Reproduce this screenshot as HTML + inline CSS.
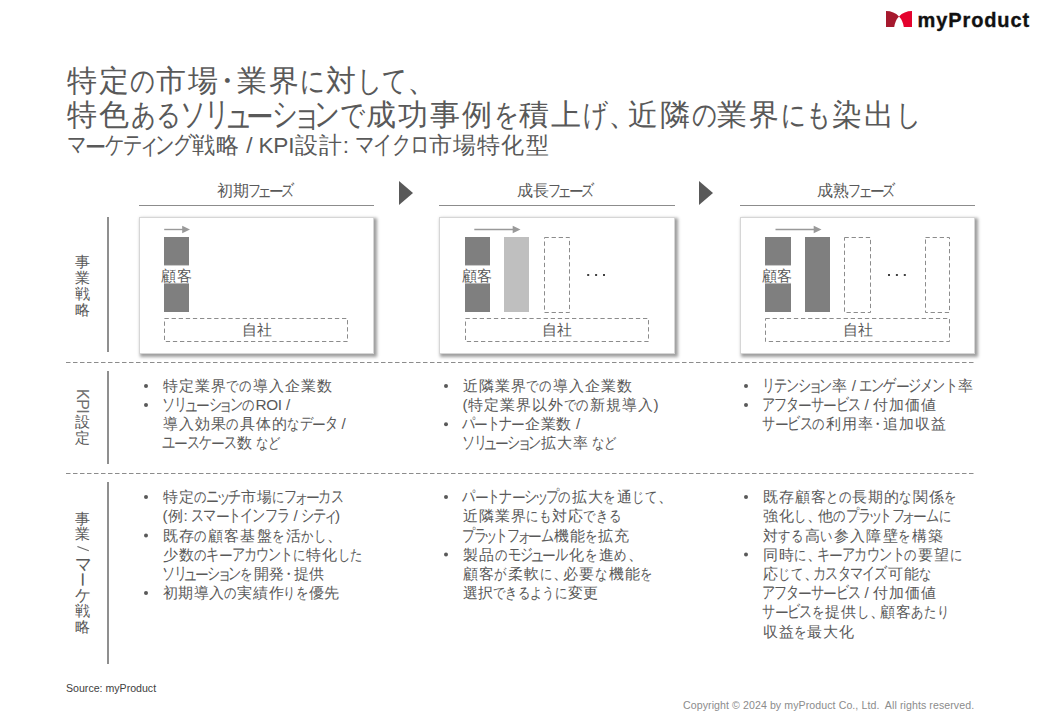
<!DOCTYPE html>
<html lang="ja"><head><meta charset="utf-8">
<title>マーケティング戦略 / KPI設計: マイクロ市場特化型</title>
<style>
html,body{margin:0;padding:0;background:#fff;}
body{width:1040px;height:720px;position:relative;overflow:hidden;font-family:"Liberation Sans",sans-serif;}
.ln{position:absolute;white-space:nowrap;line-height:1;}
.ln i{display:inline-block;font-style:normal;white-space:nowrap;}
.ln i>b{display:inline-block;font-weight:normal;transform-origin:50% 50%;}
.ln i.c{width:var(--c);text-align:center;}
.ln i.p{width:var(--p);}
.ln i.m{width:var(--m);}.ln i.m>b{margin-left:calc((var(--m) - 1em)/2);}
.ln i.k{width:var(--k);}.ln i.k>b{margin-left:calc((var(--k) - 1em)/2);transform:translateY(-0.03em) scale(0.85,1.1)}
.ln i.sk{width:var(--sk);}.ln i.sk>b{margin-left:calc((var(--sk) - 1em)/2);transform:scale(0.95,1.15)}
.ln i.sh{width:var(--sh);}.ln i.sh>b{margin-left:calc((var(--sh) - 1em)/2);transform:scale(0.95,1.1)}
.ln i.h{width:var(--h);}.ln i.h>b{margin-left:calc((var(--h) - 1em)/2);transform:scale(0.82,1)}
.ln i.l{width:var(--l);}.ln i.l>b{margin-left:calc((var(--l) - 1em)/2);transform:translateY(0.07em) scale(0.92,1)}
.abs{position:absolute;left:0;top:0;}
.card{position:absolute;top:217px;height:137px;box-sizing:border-box;border:1px solid #d6d6d6;background:#fff;box-shadow:2px 2px 3px 1px rgba(0,0,0,0.38);}
.vc{position:absolute;left:74.6px;line-height:1;color:#595959;white-space:nowrap;}
</style></head><body>

<svg class="abs" style="left:886px;top:11px" width="26" height="16" viewBox="0 0 26 16">
<path d="M0 0 Q8 0 13 5.5 Q9.3 9.2 8.2 16 L0 16 Z" fill="#a6192e"/>
<path d="M26 0 Q18 0 13 5.5 Q16.7 9.2 17.8 16 L26 16 Z" fill="#e4032e"/>
</svg>
<div class="ln" style="left:917.5px;top:10px;font-size:20px;font-weight:bold;color:#111;-webkit-text-stroke:0.35px #111;letter-spacing:0.9px">myProduct</div>

<div class="card" style="left:139px;width:235px"></div>
<div class="card" style="left:439px;width:236px"></div>
<div class="card" style="left:740px;width:235px"></div>
<svg class="abs" width="1040" height="720" viewBox="0 0 1040 720">
<defs><linearGradient id="gb" x1="0" y1="0" x2="0" y2="1"><stop offset="0" stop-color="#7f7f7f"/><stop offset="0.366" stop-color="#7f7f7f"/><stop offset="0.39" stop-color="#fff"/><stop offset="0.605" stop-color="#fff"/><stop offset="0.63" stop-color="#7f7f7f"/><stop offset="1" stop-color="#7f7f7f"/></linearGradient></defs>
<rect x="139" y="205" width="235" height="1" fill="#8c8c8c"/>
<rect x="439" y="205" width="236" height="1" fill="#8c8c8c"/>
<rect x="740" y="205" width="235" height="1" fill="#8c8c8c"/>
<path d="M399 181 L413 193 L399 205 Z" fill="#595959"/>
<path d="M699 181 L713 193 L699 205 Z" fill="#595959"/>
<rect x="107" y="217" width="2" height="135" fill="#8f8f8f"/>
<rect x="107" y="371" width="2" height="93" fill="#8f8f8f"/>
<rect x="107" y="482" width="2" height="182" fill="#8f8f8f"/>
<line x1="66" y1="362.5" x2="975" y2="362.5" stroke="#8c8c8c" stroke-width="1" stroke-dasharray="4.5 2.5"/>
<line x1="66" y1="473.5" x2="975" y2="473.5" stroke="#8c8c8c" stroke-width="1" stroke-dasharray="4.5 2.5"/>
<line x1="164.2" y1="229.5" x2="184.0" y2="229.5" stroke="#999" stroke-width="1.4"/><path d="M182.2 225.7 L190.0 229.5 L182.2 233.3 Z" fill="#999"/>
<rect x="164" y="237" width="25" height="75" fill="url(#gb)"/>
<rect x="164.5" y="318.5" width="183" height="23" stroke="#8c8c8c" stroke-width="1" stroke-dasharray="4.3 2.8" fill="none"/>
<line x1="474.3" y1="229.5" x2="514.5" y2="229.5" stroke="#999" stroke-width="1.4"/><path d="M512.7 225.7 L520.5 229.5 L512.7 233.3 Z" fill="#999"/>
<rect x="465" y="237" width="25" height="75" fill="url(#gb)"/>
<rect x="504" y="237" width="25" height="75" fill="#bfbfbf"/>
<rect x="544.5" y="237.5" width="25" height="75" stroke="#8c8c8c" stroke-width="1" stroke-dasharray="4.3 2.8" fill="none"/>
<rect x="587.2" y="274" width="2" height="2" fill="#404040"/><rect x="595.1" y="274" width="2" height="2" fill="#404040"/><rect x="603.0" y="274" width="2" height="2" fill="#404040"/>
<rect x="465.5" y="318.5" width="183" height="23" stroke="#8c8c8c" stroke-width="1" stroke-dasharray="4.3 2.8" fill="none"/>
<line x1="775.5" y1="229.5" x2="815.5" y2="229.5" stroke="#999" stroke-width="1.4"/><path d="M813.7 225.7 L821.5 229.5 L813.7 233.3 Z" fill="#999"/>
<rect x="765" y="237" width="26" height="75" fill="url(#gb)"/>
<rect x="805" y="237" width="25" height="75" fill="#7f7f7f"/>
<rect x="844.5" y="237.5" width="26" height="75" stroke="#8c8c8c" stroke-width="1" stroke-dasharray="4.3 2.8" fill="none"/>
<rect x="925.5" y="237.5" width="24" height="75" stroke="#8c8c8c" stroke-width="1" stroke-dasharray="4.3 2.8" fill="none"/>
<rect x="888.0" y="274" width="2" height="2" fill="#404040"/><rect x="895.9" y="274" width="2" height="2" fill="#404040"/><rect x="903.8" y="274" width="2" height="2" fill="#404040"/>
<rect x="765.5" y="318.5" width="184" height="23" stroke="#8c8c8c" stroke-width="1" stroke-dasharray="4.3 2.8" fill="none"/>
<circle cx="146.0" cy="385.9" r="2" fill="#595959"/>
<circle cx="146.0" cy="405.0" r="2" fill="#595959"/>
<circle cx="446.0" cy="385.9" r="2" fill="#595959"/>
<circle cx="446.0" cy="424.2" r="2" fill="#595959"/>
<circle cx="746.0" cy="385.9" r="2" fill="#595959"/>
<circle cx="746.0" cy="405.0" r="2" fill="#595959"/>
<circle cx="146.0" cy="496.9" r="2" fill="#595959"/>
<circle cx="146.0" cy="535.4" r="2" fill="#595959"/>
<circle cx="146.0" cy="593.1" r="2" fill="#595959"/>
<circle cx="446.0" cy="496.9" r="2" fill="#595959"/>
<circle cx="446.0" cy="554.6" r="2" fill="#595959"/>
<circle cx="746.0" cy="496.9" r="2" fill="#595959"/>
<circle cx="746.0" cy="554.6" r="2" fill="#595959"/>
</svg>
<div class="ln" id="t1" style="left:66.25px;top:65.09px;font-size:30.40px;color:#595959;--c:31.90px;--h:25.20px;--m:16.91px;--p:19.14px;"><i class="c">特</i><i class="c">定</i><i class="h"><b>の</b></i><i class="c">市</i><i class="c">場</i><i class="m"><b>・</b></i><i class="c">業</i><i class="c">界</i><i class="h"><b>に</b></i><i class="c">対</i><i class="h"><b>し</b></i><i class="h"><b>て</b></i><i class="p">、</i></div>
<div class="ln" id="t2" style="left:66.18px;top:99.39px;font-size:30.40px;color:#595959;--c:32.04px;--h:25.31px;--k:24.35px;--l:25.63px;--p:19.22px;--sk:17.94px;"><i class="c">特</i><i class="c">色</i><i class="h"><b>あ</b></i><i class="h"><b>る</b></i><i class="k"><b>ソ</b></i><i class="k"><b>リ</b></i><i class="sk"><b>ュ</b></i><i class="l"><b>ー</b></i><i class="k"><b>シ</b></i><i class="sk"><b>ョ</b></i><i class="k"><b>ン</b></i><i class="h"><b>で</b></i><i class="c">成</i><i class="c">功</i><i class="c">事</i><i class="c">例</i><i class="h"><b>を</b></i><i class="c">積</i><i class="c">上</i><i class="h"><b>げ</b></i><i class="p">、</i><i class="c">近</i><i class="c">隣</i><i class="h"><b>の</b></i><i class="c">業</i><i class="c">界</i><i class="h"><b>に</b></i><i class="h"><b>も</b></i><i class="c">染</i><i class="c">出</i><i class="h"><b>し</b></i></div>
<div class="ln" id="st" style="left:67.00px;top:135.32px;font-size:22.60px;color:#595959;--c:24.16px;--k:18.36px;--l:19.33px;--sk:13.53px;"><i class="k"><b>マ</b></i><i class="l"><b>ー</b></i><i class="k"><b>ケ</b></i><i class="k"><b>テ</b></i><i class="sk"><b>ィ</b></i><i class="k"><b>ン</b></i><i class="k"><b>グ</b></i><i class="c">戦</i><i class="c">略</i><span style="letter-spacing:-0.10px"> / </span><span style="letter-spacing:-0.25px">KP</span><span style="letter-spacing:-0.10px">I</span><i class="c">設</i><i class="c">計</i><span style="letter-spacing:-0.10px">: </span><i class="k"><b>マ</b></i><i class="k"><b>イ</b></i><i class="k"><b>ク</b></i><i class="k"><b>ロ</b></i><i class="c">市</i><i class="c">場</i><i class="c">特</i><i class="c">化</i><i class="c">型</i></div>
<div class="ln" id="ph0" style="left:217.05px;top:183.33px;font-size:15.80px;color:#595959;--c:15.70px;--k:11.93px;--l:12.56px;--sk:8.79px;"><i class="c">初</i><i class="c">期</i><i class="k"><b>フ</b></i><i class="sk"><b>ェ</b></i><i class="l"><b>ー</b></i><i class="k"><b>ズ</b></i></div>
<div class="ln" id="ph1" style="left:517.05px;top:183.33px;font-size:15.80px;color:#595959;--c:15.70px;--k:11.93px;--l:12.56px;--sk:8.79px;"><i class="c">成</i><i class="c">長</i><i class="k"><b>フ</b></i><i class="sk"><b>ェ</b></i><i class="l"><b>ー</b></i><i class="k"><b>ズ</b></i></div>
<div class="ln" id="ph2" style="left:817.43px;top:183.33px;font-size:15.80px;color:#595959;--c:15.95px;--k:12.12px;--l:12.76px;--sk:8.93px;"><i class="c">成</i><i class="c">熟</i><i class="k"><b>フ</b></i><i class="sk"><b>ェ</b></i><i class="l"><b>ー</b></i><i class="k"><b>ズ</b></i></div>
<div class="ln" id="k0_0" style="left:162.09px;top:378.04px;font-size:15.30px;color:#595959;--c:16.12px;--h:12.74px;"><i class="c">特</i><i class="c">定</i><i class="c">業</i><i class="c">界</i><i class="h"><b>で</b></i><i class="h"><b>の</b></i><i class="c">導</i><i class="c">入</i><i class="c">企</i><i class="c">業</i><i class="c">数</i></div>
<div class="ln" id="k0_1" style="left:162.50px;top:397.19px;font-size:15.30px;color:#595959;--h:12.78px;--k:12.29px;--l:12.94px;--sk:9.06px;"><i class="k"><b>ソ</b></i><i class="k"><b>リ</b></i><i class="sk"><b>ュ</b></i><i class="l"><b>ー</b></i><i class="k"><b>シ</b></i><i class="sk"><b>ョ</b></i><i class="k"><b>ン</b></i><i class="h"><b>の</b></i><span style="letter-spacing:-0.30px">R</span><span style="letter-spacing:-0.33px">O</span><span style="letter-spacing:-0.12px">I /</span></div>
<div class="ln" id="k0_2" style="left:162.10px;top:416.34px;font-size:15.30px;color:#595959;--c:16.09px;--h:12.71px;--k:12.23px;--l:12.87px;"><i class="c">導</i><i class="c">入</i><i class="c">効</i><i class="c">果</i><i class="h"><b>の</b></i><i class="c">具</i><i class="c">体</i><i class="c">的</i><i class="h"><b>な</b></i><i class="k"><b>デ</b></i><i class="l"><b>ー</b></i><i class="k"><b>タ</b></i><span style="letter-spacing:-0.14px"> /</span></div>
<div class="ln" id="k0_3" style="left:162.50px;top:435.49px;font-size:15.30px;color:#595959;--c:15.91px;--h:12.57px;--k:12.09px;--l:12.73px;"><i class="k"><b>ユ</b></i><i class="l"><b>ー</b></i><i class="k"><b>ス</b></i><i class="k"><b>ケ</b></i><i class="l"><b>ー</b></i><i class="k"><b>ス</b></i><i class="c">数</i><span style="letter-spacing:-0.18px"> </span><i class="h"><b>な</b></i><i class="h"><b>ど</b></i></div>
<div class="ln" id="k1_0" style="left:462.09px;top:378.04px;font-size:15.30px;color:#595959;--c:16.12px;--h:12.74px;"><i class="c">近</i><i class="c">隣</i><i class="c">業</i><i class="c">界</i><i class="h"><b>で</b></i><i class="h"><b>の</b></i><i class="c">導</i><i class="c">入</i><i class="c">企</i><i class="c">業</i><i class="c">数</i></div>
<div class="ln" id="k1_1" style="left:462.50px;top:397.19px;font-size:15.30px;color:#595959;--c:16.08px;--h:12.70px;"><span style="letter-spacing:-0.17px">(</span><i class="c">特</i><i class="c">定</i><i class="c">業</i><i class="c">界</i><i class="c">以</i><i class="c">外</i><i class="h"><b>で</b></i><i class="h"><b>の</b></i><i class="c">新</i><i class="c">規</i><i class="c">導</i><i class="c">入</i><span style="letter-spacing:-0.17px">)</span></div>
<div class="ln" id="k1_2" style="left:462.50px;top:416.34px;font-size:15.30px;color:#595959;--c:15.91px;--k:12.09px;--l:12.73px;"><i class="k"><b>パ</b></i><i class="l"><b>ー</b></i><i class="k"><b>ト</b></i><i class="k"><b>ナ</b></i><i class="l"><b>ー</b></i><i class="c">企</i><i class="c">業</i><i class="c">数</i><span style="letter-spacing:-0.18px"> /</span></div>
<div class="ln" id="k1_3" style="left:462.50px;top:435.49px;font-size:15.30px;color:#595959;--c:15.80px;--h:12.48px;--k:12.01px;--l:12.64px;--sk:8.85px;"><i class="k"><b>ソ</b></i><i class="k"><b>リ</b></i><i class="sk"><b>ュ</b></i><i class="l"><b>ー</b></i><i class="k"><b>シ</b></i><i class="sk"><b>ョ</b></i><i class="k"><b>ン</b></i><i class="c">拡</i><i class="c">大</i><i class="c">率</i><span style="letter-spacing:-0.21px"> </span><i class="h"><b>な</b></i><i class="h"><b>ど</b></i></div>
<div class="ln" id="k2_0" style="left:762.50px;top:378.04px;font-size:15.30px;color:#595959;--c:15.91px;--k:12.09px;--l:12.73px;--sk:8.91px;"><i class="k"><b>リ</b></i><i class="k"><b>テ</b></i><i class="k"><b>ン</b></i><i class="k"><b>シ</b></i><i class="sk"><b>ョ</b></i><i class="k"><b>ン</b></i><i class="c">率</i><span style="letter-spacing:-0.18px"> / </span><i class="k"><b>エ</b></i><i class="k"><b>ン</b></i><i class="k"><b>ゲ</b></i><i class="l"><b>ー</b></i><i class="k"><b>ジ</b></i><i class="k"><b>メ</b></i><i class="k"><b>ン</b></i><i class="k"><b>ト</b></i><i class="c">率</i></div>
<div class="ln" id="k2_1" style="left:762.50px;top:397.19px;font-size:15.30px;color:#595959;--c:15.91px;--k:12.09px;--l:12.73px;"><i class="k"><b>ア</b></i><i class="k"><b>フ</b></i><i class="k"><b>タ</b></i><i class="l"><b>ー</b></i><i class="k"><b>サ</b></i><i class="l"><b>ー</b></i><i class="k"><b>ビ</b></i><i class="k"><b>ス</b></i><span style="letter-spacing:-0.18px"> / </span><i class="c">付</i><i class="c">加</i><i class="c">価</i><i class="c">値</i></div>
<div class="ln" id="k2_2" style="left:762.50px;top:416.34px;font-size:15.30px;color:#595959;--c:16.20px;--h:12.80px;--k:12.31px;--l:12.96px;--m:8.59px;"><i class="k"><b>サ</b></i><i class="l"><b>ー</b></i><i class="k"><b>ビ</b></i><i class="k"><b>ス</b></i><i class="h"><b>の</b></i><i class="c">利</i><i class="c">用</i><i class="c">率</i><i class="m"><b>・</b></i><i class="c">追</i><i class="c">加</i><i class="c">収</i><i class="c">益</i></div>
<div class="ln" id="s0_0" style="left:162.12px;top:489.04px;font-size:15.30px;color:#595959;--c:16.05px;--h:12.68px;--k:12.20px;--l:12.84px;--sk:8.99px;"><i class="c">特</i><i class="c">定</i><i class="h"><b>の</b></i><i class="k"><b>ニ</b></i><i class="sk"><b>ッ</b></i><i class="k"><b>チ</b></i><i class="c">市</i><i class="c">場</i><i class="h"><b>に</b></i><i class="k"><b>フ</b></i><i class="sk"><b>ォ</b></i><i class="l"><b>ー</b></i><i class="k"><b>カ</b></i><i class="k"><b>ス</b></i></div>
<div class="ln" id="s0_1" style="left:162.50px;top:508.28px;font-size:15.30px;color:#595959;--c:16.00px;--k:12.16px;--l:12.80px;--sk:8.96px;"><span style="letter-spacing:-0.19px">(</span><i class="c">例</i><span style="letter-spacing:-0.16px">: </span><i class="k"><b>ス</b></i><i class="k"><b>マ</b></i><i class="l"><b>ー</b></i><i class="k"><b>ト</b></i><i class="k"><b>イ</b></i><i class="k"><b>ン</b></i><i class="k"><b>フ</b></i><i class="k"><b>ラ</b></i><span style="letter-spacing:-0.16px"> / </span><i class="k"><b>シ</b></i><i class="k"><b>テ</b></i><i class="sk"><b>ィ</b></i><span style="letter-spacing:-0.19px">)</span></div>
<div class="ln" id="s0_2" style="left:162.02px;top:527.52px;font-size:15.30px;color:#595959;--c:16.26px;--h:12.84px;--p:9.75px;"><i class="c">既</i><i class="c">存</i><i class="h"><b>の</b></i><i class="c">顧</i><i class="c">客</i><i class="c">基</i><i class="c">盤</i><i class="h"><b>を</b></i><i class="c">活</i><i class="h"><b>か</b></i><i class="h"><b>し</b></i><i class="p">、</i></div>
<div class="ln" id="s0_3" style="left:162.11px;top:546.76px;font-size:15.30px;color:#595959;--c:16.08px;--h:12.71px;--k:12.22px;--l:12.87px;"><i class="c">少</i><i class="c">数</i><i class="h"><b>の</b></i><i class="k"><b>キ</b></i><i class="l"><b>ー</b></i><i class="k"><b>ア</b></i><i class="k"><b>カ</b></i><i class="k"><b>ウ</b></i><i class="k"><b>ン</b></i><i class="k"><b>ト</b></i><i class="h"><b>に</b></i><i class="c">特</i><i class="c">化</i><i class="h"><b>し</b></i><i class="h"><b>た</b></i></div>
<div class="ln" id="s0_4" style="left:162.50px;top:566.00px;font-size:15.30px;color:#595959;--c:15.80px;--h:12.49px;--k:12.01px;--l:12.64px;--m:8.38px;--sk:8.85px;"><i class="k"><b>ソ</b></i><i class="k"><b>リ</b></i><i class="sk"><b>ュ</b></i><i class="l"><b>ー</b></i><i class="k"><b>シ</b></i><i class="sk"><b>ョ</b></i><i class="k"><b>ン</b></i><i class="h"><b>を</b></i><i class="c">開</i><i class="c">発</i><i class="m"><b>・</b></i><i class="c">提</i><i class="c">供</i></div>
<div class="ln" id="s0_5" style="left:162.34px;top:585.24px;font-size:15.30px;color:#595959;--c:15.62px;--h:12.34px;"><i class="c">初</i><i class="c">期</i><i class="c">導</i><i class="c">入</i><i class="h"><b>の</b></i><i class="c">実</i><i class="c">績</i><i class="c">作</i><i class="h"><b>り</b></i><i class="h"><b>を</b></i><i class="c">優</i><i class="c">先</i></div>
<div class="ln" id="s1_0" style="left:462.50px;top:489.04px;font-size:15.30px;color:#595959;--c:16.12px;--h:12.73px;--k:12.25px;--l:12.89px;--p:9.67px;--sk:9.03px;"><i class="k"><b>パ</b></i><i class="l"><b>ー</b></i><i class="k"><b>ト</b></i><i class="k"><b>ナ</b></i><i class="l"><b>ー</b></i><i class="k"><b>シ</b></i><i class="sk"><b>ッ</b></i><i class="k"><b>プ</b></i><i class="h"><b>の</b></i><i class="c">拡</i><i class="c">大</i><i class="h"><b>を</b></i><i class="c">通</i><i class="h"><b>じ</b></i><i class="h"><b>て</b></i><i class="p">、</i></div>
<div class="ln" id="s1_1" style="left:462.14px;top:508.28px;font-size:15.30px;color:#595959;--c:16.02px;--h:12.66px;"><i class="c">近</i><i class="c">隣</i><i class="c">業</i><i class="c">界</i><i class="h"><b>に</b></i><i class="h"><b>も</b></i><i class="c">対</i><i class="c">応</i><i class="h"><b>で</b></i><i class="h"><b>き</b></i><i class="h"><b>る</b></i></div>
<div class="ln" id="s1_2" style="left:462.50px;top:527.52px;font-size:15.30px;color:#595959;--c:15.91px;--h:12.57px;--k:12.09px;--l:12.73px;--sk:8.91px;"><i class="k"><b>プ</b></i><i class="k"><b>ラ</b></i><i class="sk"><b>ッ</b></i><i class="k"><b>ト</b></i><i class="k"><b>フ</b></i><i class="sk"><b>ォ</b></i><i class="l"><b>ー</b></i><i class="k"><b>ム</b></i><i class="c">機</i><i class="c">能</i><i class="h"><b>を</b></i><i class="c">拡</i><i class="c">充</i></div>
<div class="ln" id="s1_3" style="left:461.87px;top:546.76px;font-size:15.30px;color:#595959;--c:16.56px;--h:13.08px;--k:12.59px;--l:13.25px;--p:9.94px;--sk:9.27px;"><i class="c">製</i><i class="c">品</i><i class="h"><b>の</b></i><i class="k"><b>モ</b></i><i class="k"><b>ジ</b></i><i class="sk"><b>ュ</b></i><i class="l"><b>ー</b></i><i class="k"><b>ル</b></i><i class="c">化</i><i class="h"><b>を</b></i><i class="c">進</i><i class="h"><b>め</b></i><i class="p">、</i></div>
<div class="ln" id="s1_4" style="left:462.01px;top:566.00px;font-size:15.30px;color:#595959;--c:16.28px;--h:12.86px;--p:9.77px;"><i class="c">顧</i><i class="c">客</i><i class="h"><b>が</b></i><i class="c">柔</i><i class="c">軟</i><i class="h"><b>に</b></i><i class="p">、</i><i class="c">必</i><i class="c">要</i><i class="h"><b>な</b></i><i class="c">機</i><i class="c">能</i><i class="h"><b>を</b></i></div>
<div class="ln" id="s1_5" style="left:462.36px;top:585.24px;font-size:15.30px;color:#595959;--c:15.59px;--h:12.32px;"><i class="c">選</i><i class="c">択</i><i class="h"><b>で</b></i><i class="h"><b>き</b></i><i class="h"><b>る</b></i><i class="h"><b>よ</b></i><i class="h"><b>う</b></i><i class="h"><b>に</b></i><i class="c">変</i><i class="c">更</i></div>
<div class="ln" id="s2_0" style="left:762.13px;top:489.04px;font-size:15.30px;color:#595959;--c:16.04px;--h:12.67px;"><i class="c">既</i><i class="c">存</i><i class="c">顧</i><i class="c">客</i><i class="h"><b>と</b></i><i class="h"><b>の</b></i><i class="c">長</i><i class="c">期</i><i class="c">的</i><i class="h"><b>な</b></i><i class="c">関</i><i class="c">係</i><i class="h"><b>を</b></i></div>
<div class="ln" id="s2_1" style="left:762.03px;top:508.28px;font-size:15.30px;color:#595959;--c:16.23px;--h:12.82px;--k:12.34px;--l:12.99px;--p:9.74px;--sk:9.09px;"><i class="c">強</i><i class="c">化</i><i class="h"><b>し</b></i><i class="p">、</i><i class="c">他</i><i class="h"><b>の</b></i><i class="k"><b>プ</b></i><i class="k"><b>ラ</b></i><i class="sk"><b>ッ</b></i><i class="k"><b>ト</b></i><i class="k"><b>フ</b></i><i class="sk"><b>ォ</b></i><i class="l"><b>ー</b></i><i class="k"><b>ム</b></i><i class="h"><b>に</b></i></div>
<div class="ln" id="s2_2" style="left:762.00px;top:527.52px;font-size:15.30px;color:#595959;--c:16.31px;--h:12.88px;"><i class="c">対</i><i class="h"><b>す</b></i><i class="h"><b>る</b></i><i class="c">高</i><i class="h"><b>い</b></i><i class="c">参</i><i class="c">入</i><i class="c">障</i><i class="c">壁</i><i class="h"><b>を</b></i><i class="c">構</i><i class="c">築</i></div>
<div class="ln" id="s2_3" style="left:762.01px;top:546.76px;font-size:15.30px;color:#595959;--c:16.28px;--h:12.86px;--k:12.37px;--l:13.02px;--p:9.77px;"><i class="c">同</i><i class="c">時</i><i class="h"><b>に</b></i><i class="p">、</i><i class="k"><b>キ</b></i><i class="l"><b>ー</b></i><i class="k"><b>ア</b></i><i class="k"><b>カ</b></i><i class="k"><b>ウ</b></i><i class="k"><b>ン</b></i><i class="k"><b>ト</b></i><i class="h"><b>の</b></i><i class="c">要</i><i class="c">望</i><i class="h"><b>に</b></i></div>
<div class="ln" id="s2_4" style="left:762.07px;top:566.00px;font-size:15.30px;color:#595959;--c:16.17px;--h:12.77px;--k:12.29px;--p:9.70px;"><i class="c">応</i><i class="h"><b>じ</b></i><i class="h"><b>て</b></i><i class="p">、</i><i class="k"><b>カ</b></i><i class="k"><b>ス</b></i><i class="k"><b>タ</b></i><i class="k"><b>マ</b></i><i class="k"><b>イ</b></i><i class="k"><b>ズ</b></i><i class="c">可</i><i class="c">能</i><i class="h"><b>な</b></i></div>
<div class="ln" id="s2_5" style="left:762.50px;top:585.24px;font-size:15.30px;color:#595959;--c:15.91px;--k:12.09px;--l:12.73px;"><i class="k"><b>ア</b></i><i class="k"><b>フ</b></i><i class="k"><b>タ</b></i><i class="l"><b>ー</b></i><i class="k"><b>サ</b></i><i class="l"><b>ー</b></i><i class="k"><b>ビ</b></i><i class="k"><b>ス</b></i><span style="letter-spacing:-0.18px"> / </span><i class="c">付</i><i class="c">加</i><i class="c">価</i><i class="c">値</i></div>
<div class="ln" id="s2_6" style="left:762.50px;top:604.48px;font-size:15.30px;color:#595959;--c:16.10px;--h:12.72px;--k:12.23px;--l:12.88px;--p:9.66px;"><i class="k"><b>サ</b></i><i class="l"><b>ー</b></i><i class="k"><b>ビ</b></i><i class="k"><b>ス</b></i><i class="h"><b>を</b></i><i class="c">提</i><i class="c">供</i><i class="h"><b>し</b></i><i class="p">、</i><i class="c">顧</i><i class="c">客</i><i class="h"><b>あ</b></i><i class="h"><b>た</b></i><i class="h"><b>り</b></i></div>
<div class="ln" id="s2_7" style="left:762.14px;top:623.72px;font-size:15.30px;color:#595959;--c:16.02px;--h:12.65px;"><i class="c">収</i><i class="c">益</i><i class="h"><b>を</b></i><i class="c">最</i><i class="c">大</i><i class="c">化</i></div>
<div class="ln" style="left:161.0px;top:267.54px;font-size:15.4px;color:#595959;letter-spacing:0.6px">顧客</div>
<div class="ln" style="left:241.5px;top:321.94px;font-size:15.4px;color:#595959;letter-spacing:0.4px">自社</div>
<div class="ln" style="left:461.5px;top:267.54px;font-size:15.4px;color:#595959;letter-spacing:0.6px">顧客</div>
<div class="ln" style="left:541.7px;top:321.94px;font-size:15.4px;color:#595959;letter-spacing:0.4px">自社</div>
<div class="ln" style="left:761.5px;top:267.54px;font-size:15.4px;color:#595959;letter-spacing:0.6px">顧客</div>
<div class="ln" style="left:842.6px;top:321.94px;font-size:15.4px;color:#595959;letter-spacing:0.4px">自社</div>
<div class="vc" style="top:253.94px;font-size:15.3px">事</div>
<div class="vc" style="top:269.64px;font-size:15.3px">業</div>
<div class="vc" style="top:285.54px;font-size:15.3px">戦</div>
<div class="vc" style="top:302.04px;font-size:15.3px">略</div>
<div class="vc" style="left:90.2px;top:388.6px;font-size:16px;transform-origin:0 0;transform:rotate(90deg);letter-spacing:-0.5px;color:#707070">KPI</div>
<div class="vc" style="top:414.04px;font-size:15.3px">設</div>
<div class="vc" style="top:429.54px;font-size:15.3px">定</div>
<div class="vc" style="top:510.84px;font-size:15.3px">事</div>
<div class="vc" style="top:526.44px;font-size:15.3px">業</div>
<svg class="abs" width="1040" height="720"><line x1="77.4" y1="546.4" x2="88.8" y2="550.8" stroke="#6a6a6a" stroke-width="1.1"/></svg>
<div class="vc" style="top:557.02px;width:15.3px;height:15.3px;text-align:center;font-size:15.3px;transform:translateY(-1px) scale(1.08,1.3);">マ</div>
<div class="vc" style="top:572.02px;width:15.3px;height:15.3px;text-align:center;font-size:15.3px;transform:rotate(90deg);">ー</div>
<div class="vc" style="top:587.60px;width:15.3px;height:15.3px;text-align:center;font-size:15.3px;transform:translateY(-1px) scale(1.05,1.12);">ケ</div>
<div class="vc" style="top:603.29px;font-size:15.3px">戦</div>
<div class="vc" style="top:618.94px;font-size:15.3px">略</div>
<div class="ln" style="left:66px;top:683px;font-size:10.6px;color:#404040">Source: myProduct</div>
<div class="ln" style="left:683px;top:700px;font-size:10.6px;color:#8c8c8c;letter-spacing:0.08px;white-space:pre">Copyright © 2024 by myProduct Co., Ltd.  All rights reserved.</div>
</body></html>
